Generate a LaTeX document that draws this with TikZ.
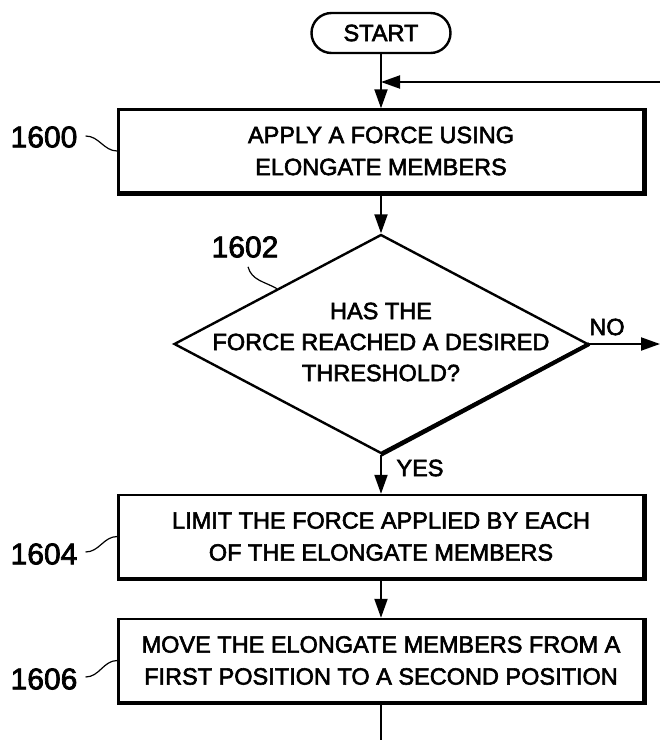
\documentclass[tikz,border=0pt]{standalone}
\usepackage{fontspec}
\setmainfont{Liberation Sans}
\newfontfamily\heavysans{Liberation Sans}[FakeBold=2.5]
\usetikzlibrary{shapes.geometric,arrows.meta}

\tikzset{
  terminal/.style={draw, line width=2.4pt, rounded corners=20pt, minimum width=139pt,
    minimum height=40pt, inner sep=0pt, font=\heavysans\fontsize{23.5}{28}\selectfont},
  stepbox/.style={draw, line width=2.4pt, minimum width=525pt, minimum height=83pt,
    inner sep=0pt, align=center, font=\heavysans\fontsize{23.5}{32}\selectfont},
  decision/.style={draw, diamond, line width=2.4pt, minimum width=414pt,
    minimum height=219pt, inner sep=0pt},
  asks/.style={align=center, inner sep=0pt, font=\heavysans\fontsize{23.5}{31}\selectfont},
  answer/.style={inner sep=0pt, font=\heavysans\fontsize{23.5}{28}\selectfont},
  refnum/.style={inner sep=0pt, font=\heavysans\fontsize{30}{36}\selectfont},
  flow/.style={line width=2pt, -{Triangle[length=19pt,width=13pt]}},
  leader/.style={line width=1.2pt},
}

\begin{document}
\begin{tikzpicture}[x=1pt,y=-1pt]
\useasboundingbox (0,0) rectangle (660,740);

% steps
\node[terminal] (start) at (381,33) {START};
\node[stepbox] (s1600) at (381,151) {APPLY A FORCE USING\\ELONGATE MEMBERS};
\node[decision] (d1602) at (381,344) {};
\node[asks] (q1602) at (381,342) {HAS THE\\FORCE REACHED A DESIRED\\THRESHOLD?};
\node[stepbox] (s1604) at (381,536.5) {LIMIT THE FORCE APPLIED BY EACH\\OF THE ELONGATE MEMBERS};
\node[stepbox] (s1606) at (381,660.5) {MOVE THE ELONGATE MEMBERS FROM A\\FIRST POSITION TO A SECOND POSITION};
% heavier lower and right edges
\foreach \s in {s1600,s1604,s1606}
  \draw[line width=3.6pt] (\s.north east) -- (\s.south east) -- (\s.south west);
\draw[line width=4pt] (d1602.east) -- (d1602.south);

% reference numbers
\node[refnum] (r1600) at (44,137) {1600};
\node[refnum] (r1602) at (245,247) {1602};
\node[refnum] (r1604) at (44,554) {1604};
\node[refnum] (r1606) at (44,679) {1606};
\draw[leader] ([xshift=8pt,yshift=1pt]r1600.east) to[out=0,in=180] (s1600.west);
\draw[leader] ([xshift=3pt,yshift=-9pt]r1602.south) to[out=-75,in=150] (d1602.north west);
\draw[leader] ([xshift=8pt,yshift=2pt]r1604.east) to[out=0,in=180] (s1604.west);
\draw[leader] ([xshift=8pt,yshift=2pt]r1606.east) to[out=0,in=180] (s1606.west);

% connectors
\coordinate (loopin) at (660,82);
\coordinate (noout) at (660,344);
\coordinate (finish) at (381,740);
\draw[flow] (start.south) -- (s1600.north);
\draw[flow] (loopin) -- (loopin -| start.south);
\draw[flow] (s1600.south) -- (d1602.north);
\draw[flow] (d1602.east) -- (noout);
\node[answer] (no) at (607,327) {NO};
\draw[flow] (d1602.south) -- (s1604.north);
\node[answer] (yes) at (420,468) {YES};
\draw[flow] (s1604.south) -- (s1606.north);
\draw[line width=2pt] (s1606.south) -- (finish);
\end{tikzpicture}
\end{document}
